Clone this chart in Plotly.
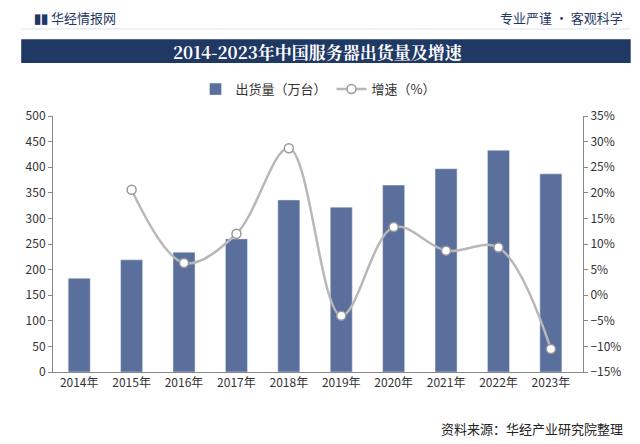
import plotly.graph_objects as go

years = ['2014年', '2015年', '2016年', '2017年', '2018年', '2019年', '2020年', '2021年', '2022年', '2023年']
shipments = [183, 219, 234, 260, 336, 322, 365, 397, 433, 387]
growth_years = years[1:]
growth = [20.6, 6.3, 12.0, 28.7, -4.0, 13.3, 8.7, 9.3, -10.5]

fig = go.Figure()
fig.add_trace(go.Bar(x=years, y=shipments, name='出货量（万台）', marker_color='#5a6f9b', width=0.42))
fig.add_trace(go.Scatter(x=growth_years, y=growth, name='增速（%）', yaxis='y2', mode='lines+markers',
                         line=dict(color='#b8b8b8', width=2.5, shape='spline'),
                         marker=dict(size=9, color='white', line=dict(color='#9a9a9a', width=1.5))))

fig.update_layout(
    width=640, height=444, margin=dict(l=45, r=65, t=108, b=80),
    paper_bgcolor='white', plot_bgcolor='white',
    font=dict(family='Noto Sans CJK SC', size=12, color='#333'),
    legend=dict(orientation='h', x=0.5, xanchor='center', y=1.105, yanchor='middle', font=dict(size=13)),
    xaxis=dict(showline=True, linecolor='#888', ticks='', tickfont=dict(size=12)),
    yaxis=dict(range=[0, 500], dtick=50, showgrid=False, showline=True, linecolor='#888',
               ticks='outside', ticklen=4, tickcolor='#888'),
    yaxis2=dict(range=[-15, 35], dtick=5, overlaying='y', side='right', showgrid=False, showline=True,
                linecolor='#888', ticksuffix='%', ticks='outside', ticklen=4, tickcolor='#888'),
    shapes=[dict(type='rect', xref='paper', yref='paper', x0=-0.06, x1=1.09, y0=1.207, y1=1.30,
                 fillcolor='#1f3864', line_width=0, layer='below'),
            dict(type='rect', xref='paper', yref='paper', x0=-0.06, x1=1.09, y0=1.338, y1=1.342,
                 fillcolor='#dde3ee', line_width=0)],
    annotations=[
        dict(text='<b>2014-2023年中国服务器出货量及增速</b>', xref='paper', yref='paper', x=0.5, y=1.253,
             yanchor='middle', showarrow=False,
             font=dict(size=17, color='white', family='Noto Serif CJK SC, Noto Sans CJK SC')),
        dict(text='<b>▮▮</b> 华经情报网', xref='paper', yref='paper', x=-0.04, y=1.385, xanchor='left',
             yanchor='middle', showarrow=False, font=dict(size=13, color='#1f3864')),
        dict(text='专业严谨 • 客观科学', xref='paper', yref='paper', x=1.08, y=1.385, xanchor='right',
             yanchor='middle', showarrow=False, font=dict(size=13, color='#1f3864')),
        dict(text='资料来源：华经产业研究院整理', xref='paper', yref='paper', x=1.08, y=-0.22, xanchor='right',
             yanchor='middle', showarrow=False, font=dict(size=13, color='#222')),
    ],
)
fig.write_html('out.html')
